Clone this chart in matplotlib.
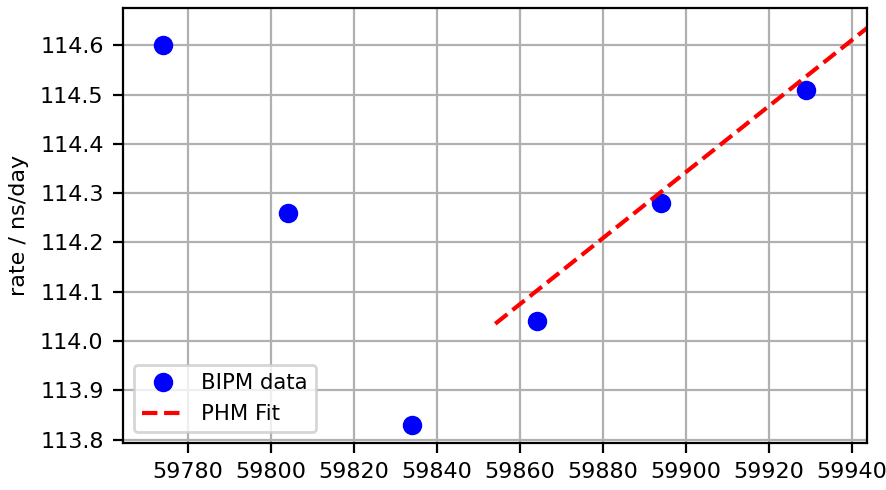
import numpy as np
import matplotlib
matplotlib.use("Agg")
import matplotlib.pyplot as plt

# BIPM rate measurements
mjd = np.array([59774, 59804, 59834, 59864, 59894, 59929])
rate = np.array([114.60, 114.26, 113.83, 114.04, 114.28, 114.51])

# PHM fit line endpoints
fit_mjd = np.array([59854, 59944])
fit_rate = np.array([114.035, 114.638])

fig, ax = plt.subplots(figsize=(4.435, 2.45), dpi=200)
fig.subplots_adjust(left=0.1387, right=0.9775, top=0.9837, bottom=0.0959)

ax.plot(mjd, rate, 'bo', label='BIPM data')
ax.plot(fit_mjd, fit_rate, 'r--', label='PHM Fit')
ax.set_xlim(59764.3, 59943.6)
ax.set_ylim(113.793, 114.676)
ax.set_yticks([113.8, 113.9, 114.0, 114.1, 114.2, 114.3, 114.4, 114.5, 114.6])
ax.set_ylabel('rate / ns/day', fontsize=8)
ax.tick_params(labelsize=8)
ax.grid()
ax.legend(loc='lower left', fontsize=7.6)

fig.savefig('out.png', dpi=200)
